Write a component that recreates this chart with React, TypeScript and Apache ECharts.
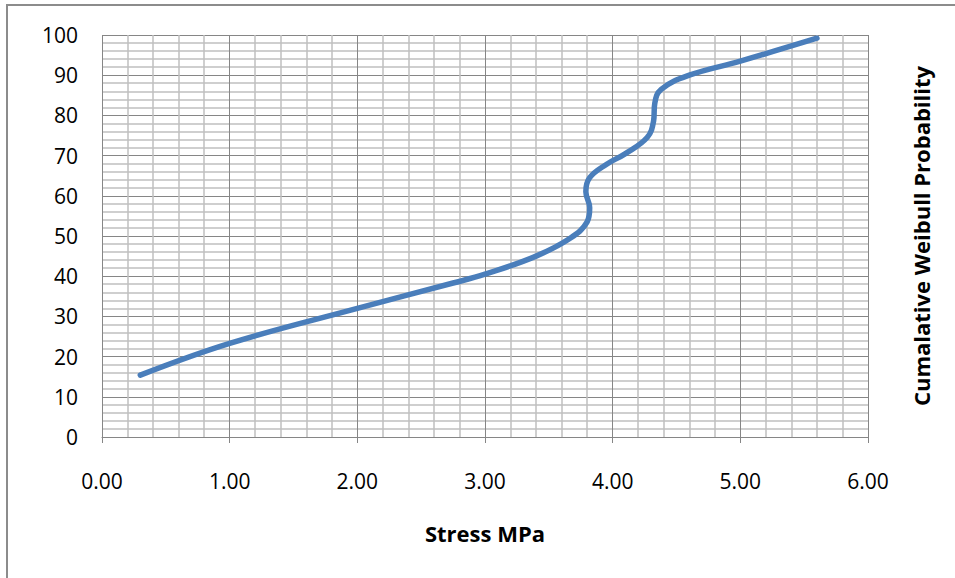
import React, { useEffect, useRef } from "react";
import * as echarts from "echarts";

const stress: number[] = [0.3, 1.0, 2.0, 2.75, 3.0, 3.4, 3.67, 3.8, 3.82, 3.79, 3.82, 3.95, 4.1, 4.27, 4.32, 4.33, 4.38, 4.6, 5.0, 5.6];
const probability: number[] = [15.4, 23.3, 32.0, 38.3, 40.5, 45.0, 49.5, 53.5, 57.0, 61.0, 64.5, 67.8, 70.5, 74.5, 78.5, 83.0, 86.5, 90.0, 93.5, 99.2];
const xAxisTitle = "Stress MPa";
const yAxisTitle = "Cumalative Weibull Probability";

const FONT = "Open Sans";

export default function App() {
  const ref = useRef<HTMLDivElement>(null);
  useEffect(() => {
    if (!ref.current) return;
    const chart = echarts.init(ref.current, null, { renderer: "svg" });
    const data = stress.map((x, i) => [x, probability[i]]);
    chart.setOption({
      animation: false,
      backgroundColor: "#ffffff",
      grid: { left: 102, right: 87, top: 35, bottom: 141 },
      xAxis: {
        type: "value",
        min: 0,
        max: 6,
        interval: 1,
        name: xAxisTitle,
        nameLocation: "middle",
        nameGap: 85,
        nameTextStyle: { fontFamily: FONT, fontWeight: "bold", fontSize: 22, color: "#000" },
        axisLine: { show: true, lineStyle: { color: "#868686", width: 1 } },
        axisTick: { show: true, length: 6, lineStyle: { color: "#868686" } },
        axisLabel: {
          margin: 33,
          fontFamily: FONT,
          fontSize: 21,
          color: "#000",
          formatter: (v: number) => v.toFixed(2),
        },
        splitLine: { show: true, lineStyle: { color: "#868686", width: 1 } },
        minorTick: { show: false, splitNumber: 5 },
        minorSplitLine: { show: true, lineStyle: { color: "#bfbfbf", width: 1.5 } },
      },
      yAxis: {
        type: "value",
        min: 0,
        max: 100,
        interval: 10,
        axisLine: { show: false },
        axisTick: { show: false },
        axisLabel: { margin: 24, fontFamily: FONT, fontSize: 21, color: "#000" },
        splitLine: { show: true, lineStyle: { color: "#868686", width: 1 } },
        minorTick: { show: false, splitNumber: 5 },
        minorSplitLine: { show: true, lineStyle: { color: "#bfbfbf", width: 1.5 } },
      },
      graphic: [
        {
          type: "rect",
          shape: { x: 7, y: 5, width: 1000, height: 700 },
          style: { fill: "none", stroke: "#8c8c8c", lineWidth: 2 },
          silent: true,
        },
        {
          type: "text",
          x: 921,
          y: 236,
          rotation: Math.PI / 2,
          style: {
            text: yAxisTitle,
            fontFamily: FONT,
            fontWeight: "bold",
            fontSize: 22,
            fill: "#000",
            align: "center",
            verticalAlign: "middle",
          },
        },
      ],
      series: [
        {
          type: "line",
          data,
          smooth: 0.4,
          symbol: "none",
          lineStyle: { color: "#4a7ebb", width: 5.5, cap: "round", join: "round" },
        },
      ],
    });
    return () => chart.dispose();
  }, []);
  return <div ref={ref} style={{ width: 955, height: 578, position: "absolute", left: 0, top: 0 }} />;
}
